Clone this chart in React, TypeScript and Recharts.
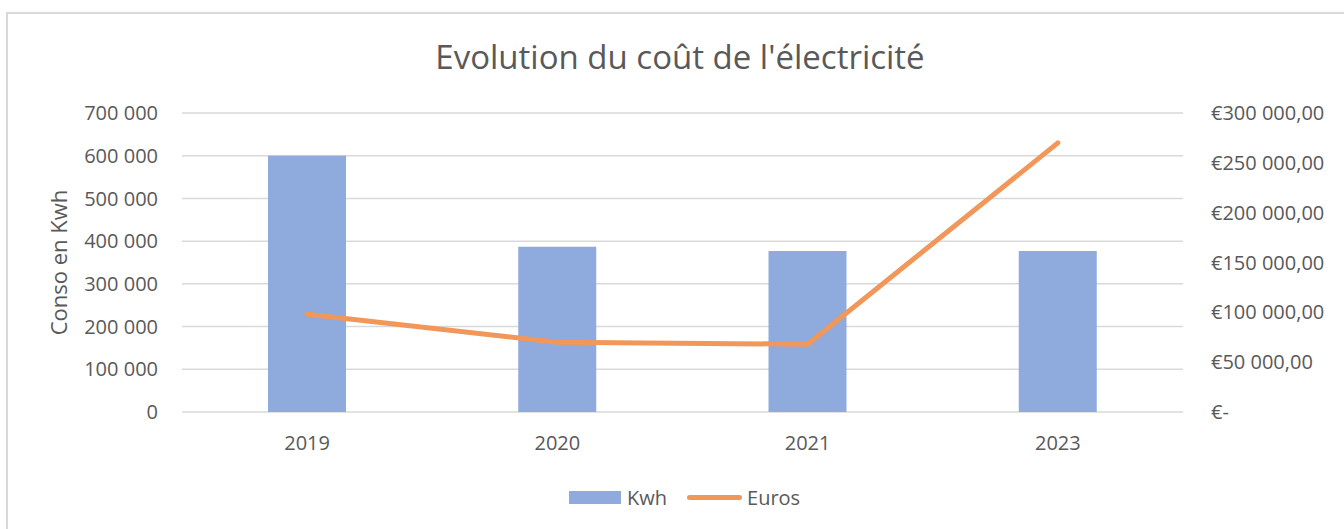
import React from 'react';
import { ComposedChart, Bar, Line, XAxis, YAxis, CartesianGrid } from 'recharts';

const years = ['2019', '2020', '2021', '2023'];
const kwhValues = [600000, 387000, 377000, 377000];
const euroValues = [98000, 70000, 68000, 270000];
const kwhTicks = [0, 100000, 200000, 300000, 400000, 500000, 600000, 700000];
const euroTicks = [0, 50000, 100000, 150000, 200000, 250000, 300000];

const data = years.map((year, i) => ({ year, kwh: kwhValues[i], euros: euroValues[i] }));

const FONT = '"Open Sans", sans-serif';
const TEXT = '#595959';
const GRID = '#D9D9D9';
const BLUE = '#8FAADC';
const ORANGE = '#F1975A';

const groupThousands = (n: number) => String(Math.round(n)).replace(/\B(?=(\d{3})+(?!\d))/g, ' ');
const formatKwh = (v: number) => groupThousands(v);
const formatEuro = (v: number) => (v === 0 ? '€-' : `€${groupThousands(v)},00`);

const YLabel: React.FC<any> = ({ viewBox }) => {
  const cy = viewBox ? viewBox.y + viewBox.height / 2 : 262;
  return (
    <text
      x={58}
      y={cy}
      transform={`rotate(-90 58 ${cy})`}
      textAnchor="middle"
      dominantBaseline="central"
      fill={TEXT}
      fontSize={22}
      fontFamily={FONT}
    >
      Conso en Kwh
    </text>
  );
};

const tickStyle = { fill: TEXT, fontSize: 20, fontFamily: FONT };

export default function App() {
  return (
    <div style={{ position: 'absolute', left: 0, top: 0, width: 1344, height: 529, overflow: 'hidden', background: '#fff' }}>
      <div
        style={{
          position: 'absolute',
          left: 6,
          top: 12,
          width: 1400,
          height: 600,
          borderLeft: `2px solid ${GRID}`,
          borderTop: `2px solid ${GRID}`,
        }}
      />
      <div
        style={{
          position: 'absolute',
          left: 8,
          top: 40,
          width: 1344,
          textAlign: 'center',
          fontFamily: FONT,
          fontSize: 33,
          lineHeight: 1,
          color: TEXT,
        }}
      >
        Evolution du coût de l'électricité
      </div>
      <div style={{ position: 'absolute', left: 0, top: 0 }}>
        <ComposedChart width={1344} height={529} data={data} margin={{ top: 113, right: 0, bottom: 77, left: 0 }}>
          <CartesianGrid yAxisId="left" vertical={false} stroke={GRID} strokeWidth={1.5} />
          <XAxis
            dataKey="year"
            height={40}
            axisLine={false}
            tickLine={false}
            tickSize={0}
            tickMargin={24}
            tick={tickStyle}
          />
          <YAxis
            yAxisId="left"
            width={182}
            domain={[0, 700000]}
            ticks={kwhTicks}
            tickFormatter={formatKwh}
            axisLine={false}
            tickLine={false}
            tickSize={0}
            tickMargin={24}
            tick={tickStyle}
            label={<YLabel />}
          />
          <YAxis
            yAxisId="right"
            orientation="right"
            width={161}
            domain={[0, 300000]}
            ticks={euroTicks}
            tickFormatter={formatEuro}
            axisLine={false}
            tickLine={false}
            tickSize={0}
            tickMargin={28}
            tick={{ ...tickStyle, textAnchor: 'start' }}
          />
          <Bar yAxisId="left" dataKey="kwh" name="Kwh" fill={BLUE} barSize={78} isAnimationActive={false} />
          <Line
            yAxisId="right"
            type="linear"
            dataKey="euros"
            name="Euros"
            stroke={ORANGE}
            strokeWidth={5}
            strokeLinecap="round"
            strokeLinejoin="round"
            dot={false}
            activeDot={false}
            isAnimationActive={false}
          />
        </ComposedChart>
      </div>
      <div
        style={{
          position: 'absolute',
          left: 569,
          top: 484,
          display: 'flex',
          alignItems: 'center',
          fontFamily: FONT,
          fontSize: 20,
          color: TEXT,
          height: 26,
        }}
      >
        <span style={{ display: 'inline-block', width: 52, height: 13, background: BLUE, marginRight: 6 }} />
        <span>Kwh</span>
        <span
          style={{
            display: 'inline-block',
            width: 55,
            height: 5,
            borderRadius: 3,
            background: ORANGE,
            marginLeft: 20,
            marginRight: 5,
          }}
        />
        <span>Euros</span>
      </div>
    </div>
  );
}
